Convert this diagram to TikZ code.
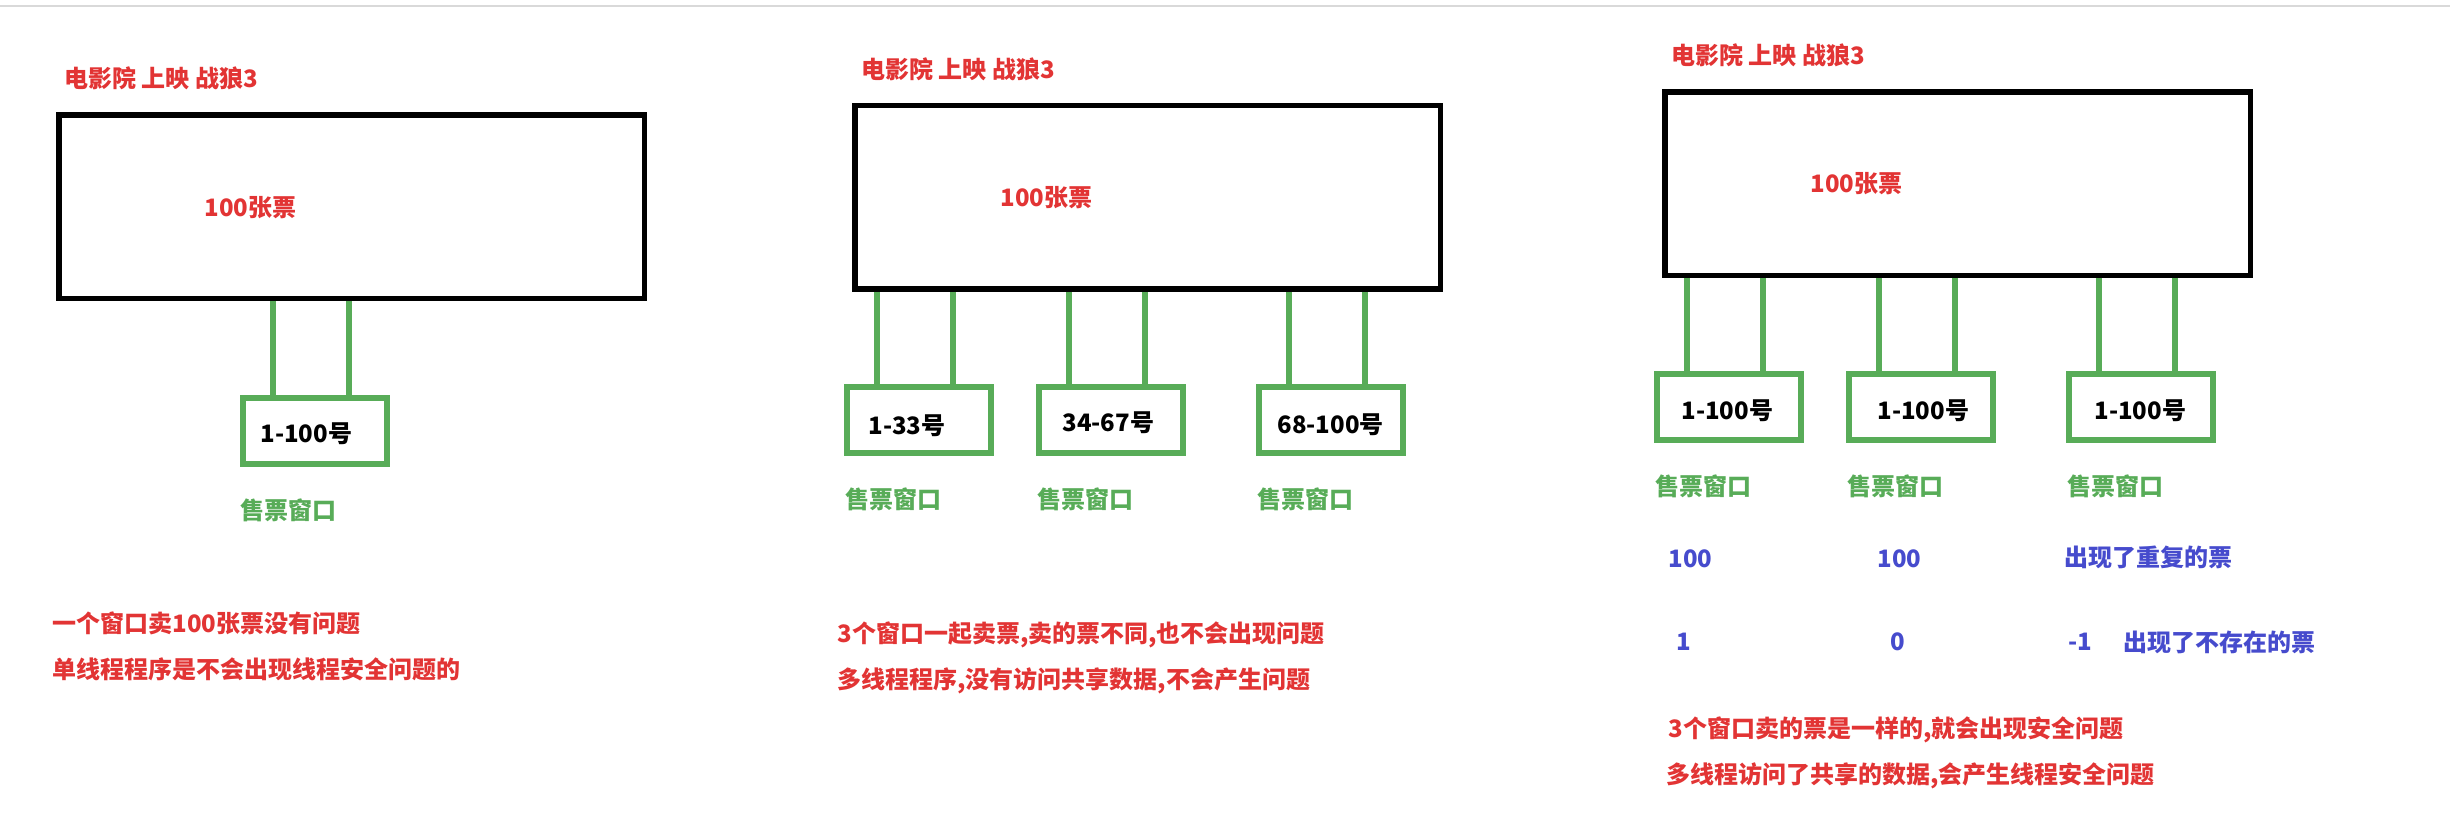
\documentclass[tikz,border=0pt]{standalone}
\usepackage{fontspec}
\setmainfont{Noto Sans CJK SC}
\usetikzlibrary{calc}
\definecolor{txtred}{RGB}{226,52,52}
\definecolor{wingreen}{RGB}{88,172,88}
\definecolor{numblue}{RGB}{70,75,205}
\begin{document}
\begin{tikzpicture}[x=0.5pt,y=-0.5pt,
    every node/.style={inner sep=0pt,font=\fontsize{12}{14}\selectfont\bfseries},
    redtxt/.style={anchor=west,text=txtred},
    greentxt/.style={anchor=west,text=wingreen},
    bluetxt/.style={anchor=west,text=numblue},
    numtxt/.style={anchor=west,text=black},
    hall/.style={draw,line width=2.75pt,minimum width=292.75pt,minimum height=91.75pt},
    window/.style={draw=wingreen,line width=3pt,minimum width=72pt,minimum height=33pt},
    wire/.style={draw=wingreen,line width=3pt}]
  \useasboundingbox (0,0) rectangle (2450,832);
  \draw[black!15,line width=1pt] (0,6) -- (2450,6);

  % one window
  \node[redtxt] (title1) at (64,78) {电影院 上映 战狼3};
  \node[hall] (hall1) at (351.5,206.5) {};
  \node[redtxt] (tix1) at (204,208) {100张票};
  \node[window] (win1) at (315,431) {};
  \node[numtxt] (num1) at (260,434) {1-100号};
  \node[greentxt] (sell1) at (240,510) {售票窗口};
  \node[redtxt] (note1a) at (52,623) {一个窗口卖100张票没有问题};
  \node[redtxt] (note1b) at (52,669) {单线程程序是不会出现线程安全问题的};

  % three windows, different tickets
  \node[redtxt] (title2) at (861,69) {电影院 上映 战狼3};
  \node[hall] (hall2) at (1147.5,197) {};
  \node[redtxt] (tix2) at (1000,198) {100张票};
  \node[window] (win2a) at (919,420) {};
  \node[window] (win2b) at (1111,420) {};
  \node[window] (win2c) at (1331,420) {};
  \node[numtxt] (num2a) at (868,426) {1-33号};
  \node[numtxt] (num2b) at (1062,423) {34-67号};
  \node[numtxt] (num2c) at (1277,425) {68-100号};
  \node[greentxt] (sell2a) at (845,499) {售票窗口};
  \node[greentxt] (sell2b) at (1037,499) {售票窗口};
  \node[greentxt] (sell2c) at (1257,499) {售票窗口};
  \node[redtxt] (note2a) at (837,635) {3个窗口一起卖票,卖的票不同,也不会出现问题};
  \node[redtxt] (note2b) at (837,681) {多线程程序,没有访问共享数据,不会产生问题};

  % three windows, same tickets
  \node[redtxt] (title3) at (1671,55) {电影院 上映 战狼3};
  \node[hall] (hall3) at (1957.5,183.5) {};
  \node[redtxt] (tix3) at (1810,184) {100张票};
  \node[window] (win3a) at (1729,407) {};
  \node[window] (win3b) at (1921,407) {};
  \node[window] (win3c) at (2141,407) {};
  \node[numtxt] (num3a) at (1681,411) {1-100号};
  \node[numtxt] (num3b) at (1877,411) {1-100号};
  \node[numtxt] (num3c) at (2094,411) {1-100号};
  \node[greentxt] (sell3a) at (1655,486) {售票窗口};
  \node[greentxt] (sell3b) at (1847,486) {售票窗口};
  \node[greentxt] (sell3c) at (2067,486) {售票窗口};
  \node[bluetxt] (cnt3a) at (1668,559) {100};
  \node[bluetxt] (cnt3b) at (1877,559) {100};
  \node[bluetxt] (dup3) at (2064,557) {出现了重复的票};
  \node[bluetxt] (low3a) at (1676,642) {1};
  \node[bluetxt] (low3b) at (1890,642) {0};
  \node[bluetxt] (low3c) at (2068,642) {-1};
  \node[bluetxt] (neg3) at (2123,642) {出现了不存在的票};
  \node[redtxt] (note3a) at (1668,730) {3个窗口卖的票是一样的,就会出现安全问题};
  \node[redtxt] (note3b) at (1666,776) {多线程访问了共享的数据,会产生线程安全问题};

  % wires from hall to window
  \foreach \w/\h in {win1/hall1,win2a/hall2,win2b/hall2,win2c/hall2,win3a/hall3,win3b/hall3,win3c/hall3}{
    \coordinate (\w-l) at ($(\w.north west)+(33,0)$);
    \coordinate (\w-r) at ($(\w.north west)+(109,0)$);
    \draw[wire] (\w-l) -- (\w-l |- \h.south);
    \draw[wire] (\w-r) -- (\w-r |- \h.south);
  }
\end{tikzpicture}
\end{document}
